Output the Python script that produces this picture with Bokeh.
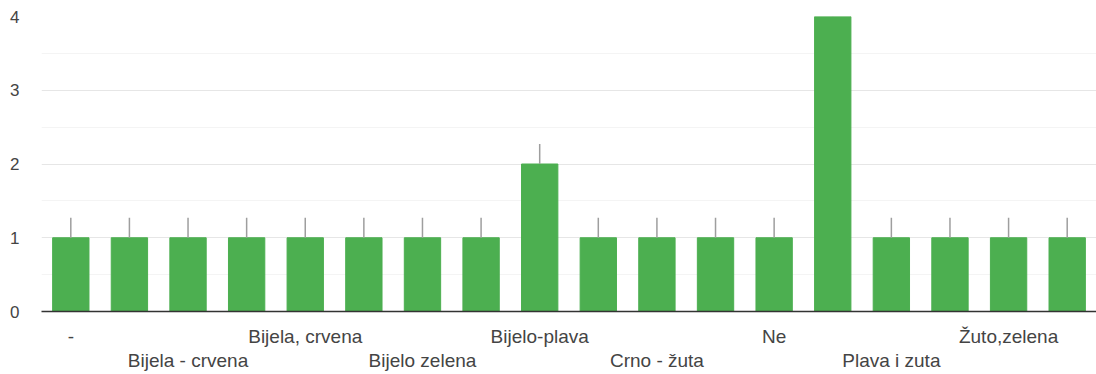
from bokeh.plotting import figure
from bokeh.models import LinearAxis, FixedTicker, Range1d, ColumnDataSource
from bokeh.embed import file_html
from bokeh.resources import INLINE

categories = ["-", "Bijela", "Bijela - crvena", "Bijela i crvena", "Bijela, crvena",
              "Bijelo crvena", "Bijelo zelena", "Bijelo-crvena", "Bijelo-plava",
              "Crna", "Crno - žuta", "Crveno-bijela", "Ne", "Plava",
              "Plava i zuta", "Zelena", "Žuto,zelena", "Žuto-zelena"]
values = [1, 1, 1, 1, 1, 1, 1, 1, 2, 1, 1, 1, 1, 4, 1, 1, 1, 1]
errors = [0.27] * 18
y_ticks = [0, 1, 2, 3, 4]

xs = list(range(len(categories)))
upper = [v + e for v, e in zip(values, errors)]
src = ColumnDataSource(dict(x=xs, top=values, upper=upper))

FONT = "Liberation Sans"
TXT = "#444444"

p = figure(width=1096, height=373, x_range=Range1d(-0.5, len(categories) - 0.5),
           y_range=Range1d(0, 4), output_backend="svg", toolbar_location=None,
           x_axis_location=None, min_border_left=41, min_border_right=0,
           min_border_top=16, min_border_bottom=0)
p.outline_line_color = None
p.background_fill_color = "white"
p.border_fill_color = "white"

p.vbar(x="x", top="top", width=0.62, color="#4caf50", source=src)
p.segment(x0="x", y0="top", x1="x", y1="upper", line_color="#9e9e9e",
          line_width=1.5, source=src)

# y axis
ya = p.yaxis[0]
ya.ticker = FixedTicker(ticks=y_ticks, minor_ticks=[0.5, 1.5, 2.5, 3.5])
ya.axis_line_color = None
ya.major_tick_line_color = None
ya.minor_tick_line_color = None
ya.major_tick_out = 0
ya.minor_tick_out = 0
ya.major_label_standoff = 22
ya.major_label_text_font = FONT
ya.major_label_text_font_size = "17px"
ya.major_label_text_color = TXT

p.xgrid.grid_line_color = None
p.ygrid.grid_line_color = "#e6e6e6"
p.ygrid.minor_grid_line_color = "#f4f4f4"

even_a = [i for i in xs if i % 4 == 0]
even_b = [i for i in xs if i % 4 == 2]


def make_axis(ticks, standoff, line_color):
    ax = LinearAxis(ticker=FixedTicker(ticks=ticks, minor_ticks=[]),
                    major_label_overrides={i: categories[i] for i in ticks})
    ax.axis_line_color = line_color
    ax.axis_line_width = 1.5
    ax.major_tick_line_color = None
    ax.minor_tick_line_color = None
    ax.major_tick_out = 0
    ax.major_tick_in = 0
    ax.minor_tick_out = 0
    ax.major_label_standoff = standoff
    ax.major_label_text_font = FONT
    ax.major_label_text_font_size = "19px"
    ax.major_label_text_color = TXT
    return ax


p.add_layout(make_axis(even_a, 14, "#333333"), "below")
p.add_layout(make_axis(even_b, 0, None), "below")

open("out.html", "w").write(file_html(p, INLINE))
